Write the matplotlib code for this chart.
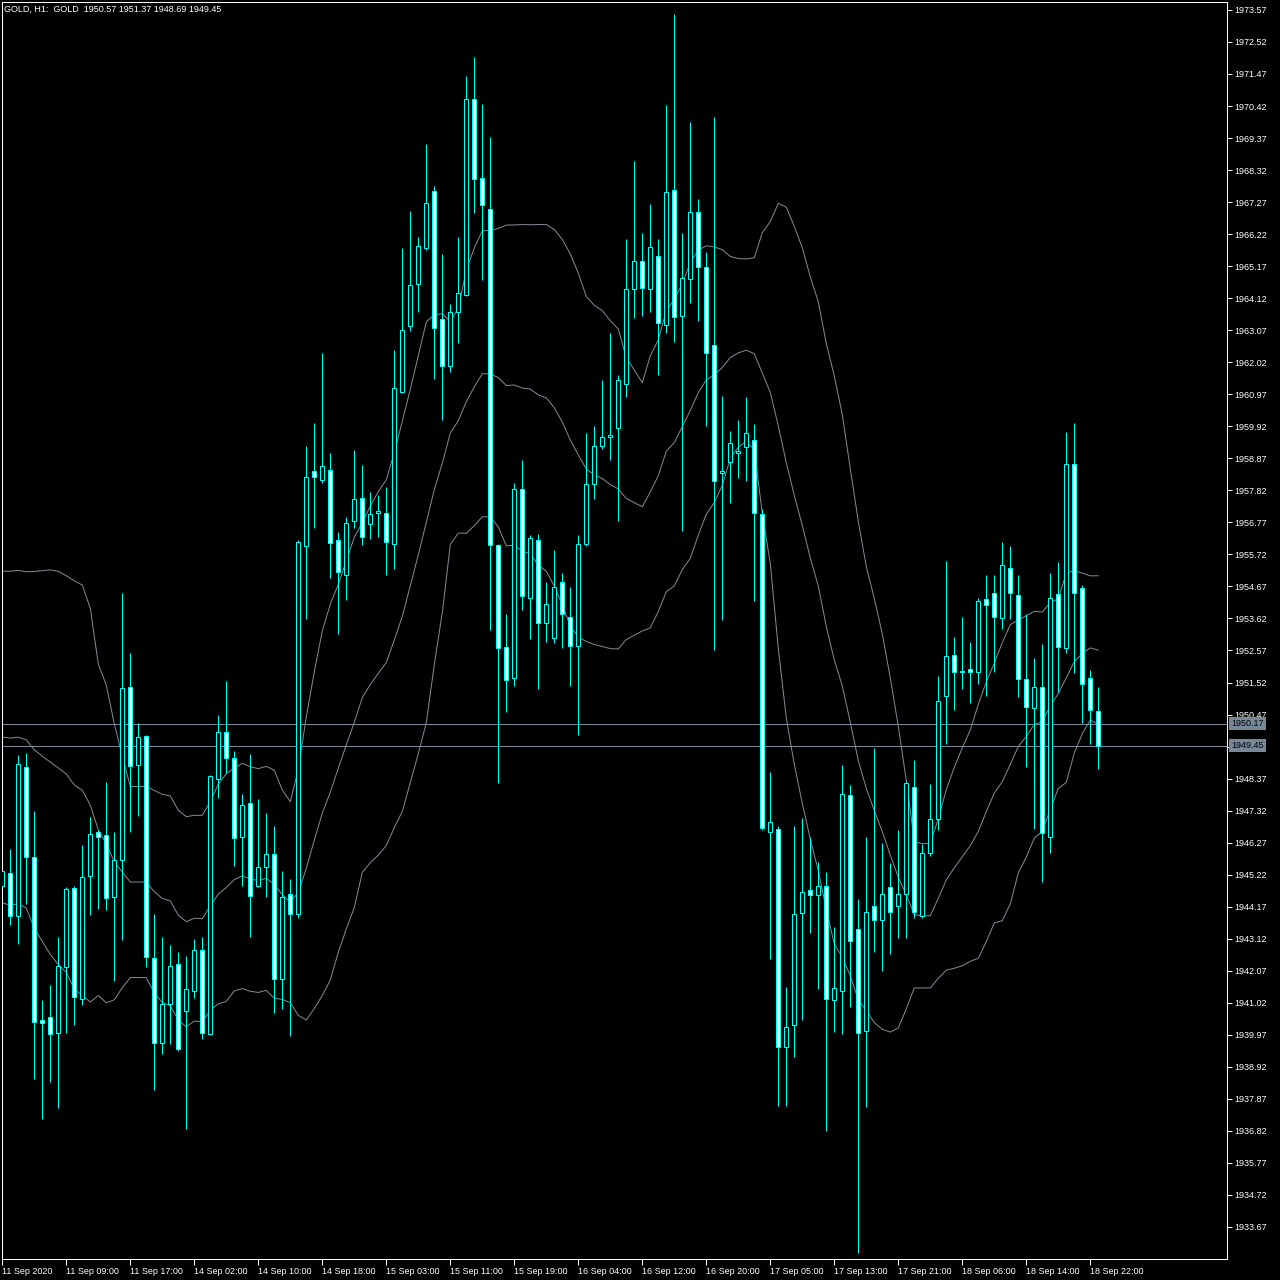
import matplotlib
matplotlib.use("Agg")
from matplotlib import pyplot as plt
import numpy as np
import pandas as pd

symbol = "GOLD"
timeframe = "H1"

# hourly candles, 11 Sep 2020 01:00 .. 18 Sep 2020 23:00
opens = [
    1944.84, 1945.28, 1943.85, 1948.75, 1945.80, 1940.45, 1940.54, 1940.04, 1942.18, 1944.79,
    1941.15, 1945.19, 1946.63, 1946.51, 1944.49, 1945.69, 1951.37, 1948.83, 1949.75, 1942.49,
    1939.71, 1940.98, 1942.28, 1940.74, 1941.42, 1942.74, 1940.00, 1948.36, 1949.89, 1949.05,
    1946.46, 1947.56, 1944.85, 1945.48, 1945.90, 1941.79, 1944.58, 1943.92, 1955.99, 1958.45,
    1958.17, 1958.50, 1956.18, 1955.03, 1956.80, 1957.56, 1956.73, 1957.09, 1957.07, 1956.07,
    1961.04, 1963.21, 1964.57, 1965.78, 1967.63, 1963.44, 1961.91, 1963.66, 1964.23, 1970.66,
    1968.06, 1967.04, 1956.02, 1952.68, 1951.66, 1957.86, 1954.30, 1956.18, 1953.47, 1952.97,
    1954.82, 1953.67, 1952.73, 1956.07, 1958.02, 1959.29, 1959.56, 1959.87, 1961.29, 1964.42,
    1965.33, 1964.42, 1965.50, 1963.25, 1967.66, 1963.52, 1964.74, 1966.95, 1965.15, 1962.60,
    1958.40, 1958.74, 1959.05, 1959.25, 1959.47, 1957.06, 1946.63, 1946.72, 1939.58, 1940.28,
    1943.96, 1944.73, 1944.55, 1944.84, 1941.11, 1941.42, 1947.82, 1943.45, 1940.10, 1944.18,
    1943.72, 1944.80, 1944.18, 1944.57, 1948.08, 1943.88, 1945.93, 1947.06, 1951.09, 1952.41,
    1951.86, 1951.95, 1951.86, 1954.25, 1954.46, 1953.63, 1955.27, 1954.38, 1951.63, 1950.67,
    1951.36, 1946.45, 1954.42, 1952.66, 1958.67, 1954.61, 1951.66, 1950.57,
]
highs = [
    1945.60, 1946.07, 1949.14, 1949.20, 1947.30, 1941.12, 1941.59, 1943.17, 1944.80, 1944.85,
    1946.19, 1947.12, 1946.70, 1948.26, 1946.62, 1954.47, 1952.49, 1950.20, 1949.79, 1943.94,
    1943.19, 1942.92, 1942.67, 1942.55, 1943.12, 1943.19, 1948.50, 1950.46, 1951.58, 1949.29,
    1947.86, 1949.17, 1947.71, 1947.24, 1946.81, 1945.34, 1945.07, 1956.20, 1959.27, 1960.02,
    1962.33, 1959.04, 1956.45, 1956.96, 1959.13, 1958.66, 1957.75, 1957.67, 1957.94, 1962.41,
    1965.78, 1966.97, 1966.14, 1969.17, 1967.79, 1965.56, 1963.94, 1966.14, 1971.40, 1972.02,
    1970.49, 1969.39, 1956.05, 1953.75, 1958.06, 1958.80, 1956.34, 1956.38, 1954.82, 1955.87,
    1955.11, 1954.64, 1956.34, 1959.71, 1959.94, 1961.45, 1962.97, 1961.60, 1966.05, 1968.63,
    1966.26, 1967.22, 1966.05, 1970.46, 1973.43, 1966.26, 1969.91, 1967.36, 1965.64, 1970.05,
    1960.90, 1959.77, 1960.11, 1960.88, 1959.98, 1957.20, 1948.60, 1946.80, 1941.53, 1946.81,
    1947.09, 1946.44, 1945.62, 1945.32, 1943.50, 1948.83, 1948.16, 1944.42, 1946.44, 1949.37,
    1946.26, 1945.60, 1946.67, 1948.30, 1948.98, 1946.21, 1948.20, 1951.73, 1955.49, 1953.00,
    1953.67, 1952.85, 1954.29, 1955.05, 1955.05, 1956.12, 1955.99, 1955.05, 1953.76, 1952.31,
    1952.78, 1955.10, 1955.46, 1959.72, 1960.02, 1954.72, 1951.93, 1951.37,
]
lows = [
    1944.50, 1943.58, 1942.96, 1944.25, 1938.51, 1937.22, 1938.43, 1937.57, 1940.03, 1940.30,
    1940.95, 1943.90, 1944.11, 1944.07, 1941.74, 1943.09, 1946.63, 1947.15, 1942.18, 1938.15,
    1939.35, 1939.68, 1939.45, 1936.87, 1941.19, 1939.83, 1939.95, 1947.75, 1948.54, 1945.52,
    1944.85, 1943.19, 1944.80, 1944.50, 1940.68, 1940.82, 1939.92, 1943.80, 1953.60, 1956.57,
    1958.06, 1954.96, 1953.12, 1954.22, 1956.60, 1956.02, 1956.23, 1956.29, 1955.05, 1955.24,
    1961.00, 1963.05, 1963.68, 1965.70, 1961.47, 1960.13, 1961.70, 1962.66, 1964.20, 1966.90,
    1964.73, 1953.25, 1948.21, 1950.56, 1951.40, 1953.90, 1952.93, 1951.32, 1952.84, 1952.81,
    1952.65, 1951.40, 1949.79, 1956.00, 1957.54, 1959.18, 1958.81, 1956.80, 1960.88, 1963.47,
    1963.52, 1963.66, 1961.59, 1962.97, 1962.67, 1956.50, 1963.95, 1963.36, 1959.94, 1952.60,
    1953.56, 1957.40, 1958.23, 1958.14, 1954.18, 1946.70, 1942.45, 1937.65, 1937.65, 1939.23,
    1940.47, 1943.32, 1941.47, 1936.82, 1940.06, 1940.00, 1940.87, 1932.83, 1937.61, 1942.67,
    1942.05, 1942.63, 1943.16, 1943.16, 1943.80, 1943.80, 1945.82, 1946.67, 1949.49, 1950.63,
    1951.30, 1950.85, 1951.48, 1951.07, 1951.88, 1953.27, 1953.60, 1951.06, 1948.76, 1946.71,
    1944.99, 1945.92, 1951.22, 1952.50, 1951.82, 1950.20, 1949.49, 1948.69,
]
closes = [
    1945.34, 1943.85, 1948.84, 1945.80, 1940.40, 1940.36, 1940.01, 1942.21, 1944.74, 1941.22,
    1945.14, 1946.54, 1946.47, 1944.46, 1945.69, 1951.34, 1948.79, 1949.73, 1942.53, 1939.71,
    1940.98, 1942.24, 1939.51, 1941.46, 1942.74, 1940.03, 1948.46, 1949.89, 1949.05, 1946.43,
    1947.51, 1944.52, 1945.48, 1945.90, 1941.79, 1944.50, 1943.92, 1956.14, 1958.27, 1958.25,
    1958.61, 1956.10, 1955.13, 1956.76, 1957.54, 1956.30, 1957.04, 1957.15, 1956.13, 1961.17,
    1963.08, 1964.54, 1965.83, 1967.24, 1963.13, 1961.91, 1963.66, 1964.29, 1970.66, 1968.02,
    1967.19, 1956.02, 1952.65, 1951.59, 1957.86, 1954.34, 1956.26, 1953.48, 1954.09, 1954.66,
    1953.75, 1952.73, 1956.05, 1958.02, 1959.28, 1959.56, 1959.62, 1961.45, 1964.42, 1965.33,
    1964.46, 1965.80, 1963.29, 1967.60, 1963.50, 1964.78, 1966.95, 1965.15, 1962.33, 1958.12,
    1958.45, 1959.36, 1959.10, 1959.70, 1957.08, 1946.76, 1946.94, 1939.58, 1940.24, 1943.92,
    1944.66, 1944.55, 1944.84, 1941.14, 1941.51, 1947.86, 1943.04, 1940.04, 1944.00, 1943.72,
    1944.60, 1944.00, 1944.60, 1948.22, 1944.00, 1945.93, 1947.03, 1950.92, 1952.38, 1951.86,
    1951.90, 1951.85, 1954.20, 1954.05, 1953.67, 1955.36, 1954.45, 1951.63, 1950.71, 1951.36,
    1946.60, 1954.28, 1952.68, 1958.67, 1954.45, 1951.46, 1950.62, 1949.45,
]

# closes of the 19 hours before the first bar (off screen, estimated from the bands)
closes_before = [
    1944.45, 1948.24, 1947.60, 1947.00, 1944.36, 1944.01, 1946.01, 1948.74, 1948.42, 1948.54,
    1956.34, 1962.67, 1953.66, 1957.49, 1957.94, 1955.39, 1949.73, 1942.53, 1946.11,
]

ask = 1950.17
bid = closes[-1]

bb_period = 20
bb_dev = 1

times = pd.date_range("2020-09-11 01:00", "2020-09-18 23:00", freq="h")
times = times[(times.hour != 0) & (times.weekday < 5)]

price_ticks = np.round(1933.67 + 1.05 * np.arange(39), 2)

cyan = "#00ffff"
band_color = "#818a93"
line_color = "#778899"
px = 0.72
font = "Liberation Sans"
fs = 6.5

# bollinger bands
all_closes = pd.Series(closes_before + closes)
mid = all_closes.rolling(bb_period).mean()
sd = all_closes.rolling(bb_period).std(ddof=0)
n_before = len(closes_before)
mid = mid.values[n_before:]
upper = mid + bb_dev * sd.values[n_before:]
lower = mid - bb_dev * sd.values[n_before:]

fig = plt.figure(figsize=(12.8, 12.8), dpi=100, facecolor="black")
ax = fig.add_axes([2 / 1280, 21 / 1280, 1225 / 1280, 1257 / 1280])
ax.set_facecolor("black")

x = np.arange(len(closes))
o = np.array(opens)
c = np.array(closes)
up = c >= o
body_lo = np.minimum(o, c)
body_h = np.abs(c - o)

ax.plot(x, upper, color=band_color, lw=px, zorder=1)
ax.plot(x, mid, color=band_color, lw=px, zorder=1)
ax.plot(x, lower, color=band_color, lw=px, zorder=1)

ax.axhline(ask, color=line_color, lw=px, zorder=1)
ax.axhline(bid, color=line_color, lw=px, zorder=1)

ax.vlines(x, lows, highs, color=cyan, lw=px, zorder=2)
ax.bar(x[up], body_h[up], bottom=body_lo[up], width=0.5,
       facecolor="black", edgecolor=cyan, lw=px, zorder=3)
ax.bar(x[~up], body_h[~up], bottom=body_lo[~up], width=0.5,
       facecolor="white", edgecolor=cyan, lw=px, zorder=3)

ax.set_xlim(-0.04, 153.09)
ax.set_ylim(1932.62, 1973.83)

for s in ax.spines.values():
    s.set_color("white")
    s.set_linewidth(px)

# right price scale (labels hidden where the bid / ask boxes sit)
ax.yaxis.tick_right()
ax.set_yticks(price_ticks)
ylabels = []
for v in price_ticks:
    if min(abs(v - ask), abs(v - bid)) < 0.2:
        ylabels.append("")
    else:
        ylabels.append(f"{v:.2f}")
ax.set_yticklabels(ylabels, fontfamily=font, fontsize=fs)
ax.tick_params(axis="y", colors="white", length=3.5, width=px, pad=2)

# time scale
tick_idx = x[::8]
tick_labels = [times[i].strftime("%d %b %H:%M") for i in tick_idx]
tick_labels[0] = times[0].strftime("%d %b %Y")
ax.set_xticks(tick_idx)
ax.set_xticklabels(tick_labels, fontfamily=font, fontsize=fs, ha="left")
ax.tick_params(axis="x", colors="white", length=4, width=px, pad=1.5)

# bid / ask labels
for p in [ask, bid]:
    ax.text(1.0 + 4 / 1225, p, f"{p:.2f}", transform=ax.get_yaxis_transform(),
            ha="left", va="center", color="black", fontfamily=font, fontsize=fs,
            bbox=dict(boxstyle="square,pad=0.25", fc=line_color, ec="none"),
            clip_on=False, zorder=5)

header = f"{symbol}, {timeframe}:  {symbol}  {opens[-1]:.2f} {highs[-1]:.2f} {lows[-1]:.2f} {closes[-1]:.2f}"
fig.text(4 / 1280, 1 - 9 / 1280, header, color="white", fontfamily=font,
         fontsize=fs, ha="left", va="center")

fig.savefig("out.png", dpi=100, facecolor="black")
